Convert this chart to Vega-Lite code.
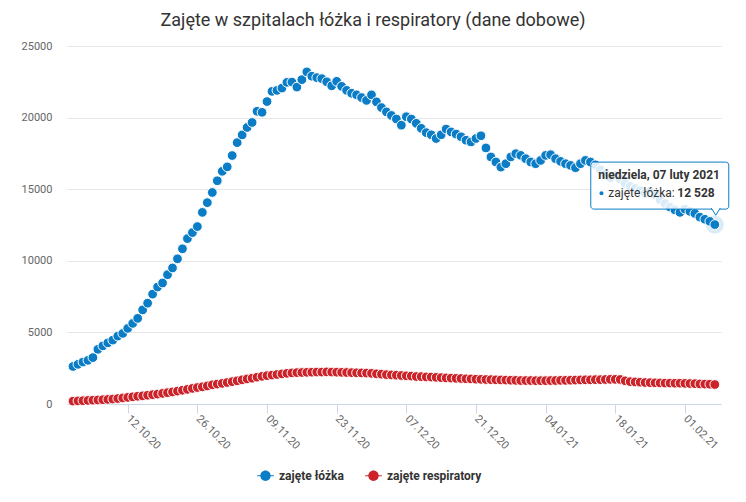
{
  "$schema": "https://vega.github.io/schema/vega-lite/v6.json",
  "width": 654,
  "height": 358,
  "autosize": {"type": "none"},
  "padding": {"left": 67, "top": 46, "right": 25, "bottom": 98},
  "background": "white",
  "config": {
    "font": "Roboto",
    "view": {"stroke": null},
    "axisX": {
      "grid": false,
      "domainColor": "#ccd6eb",
      "domainWidth": 1,
      "tickColor": "#ccd6eb",
      "tickSize": 9,
      "labelAngle": 45,
      "labelAlign": "left",
      "labelBaseline": "middle",
      "labelPadding": 4,
      "labelColor": "#666666",
      "labelFontSize": 11,
      "labelFont": "Roboto",
      "labelOverlap": false,
      "labelFlush": false,
      "labelBound": false,
      "title": null
    },
    "axisY": {
      "grid": true,
      "gridColor": "#e6e6e6",
      "gridWidth": 1,
      "domain": false,
      "ticks": false,
      "tickSize": 0,
      "labelPadding": 15,
      "labelColor": "#666666",
      "labelFontSize": 11,
      "labelFont": "Roboto",
      "title": null
    }
  },
  "title": {
    "text": "Zajęte w szpitalach łóżka i respiratory (dane dobowe)",
    "fontSize": 18,
    "fontWeight": "normal",
    "font": "Roboto",
    "color": "#333333",
    "anchor": "middle",
    "frame": "group",
    "offset": 10,
    "dx": -21
  },
  "layer": [
    {
      "data": {"values": [{"dzien": "2021-02-07", "v": 12528}]},
      "mark": {"type": "point", "shape": "circle", "size": 330, "filled": true, "color": "#0b7dc6", "opacity": 0.15},
      "encoding": {
        "x": {"field": "dzien", "type": "temporal"},
        "y": {"field": "v", "type": "quantitative"}
      }
    },
    {
      "data": {
        "values": [
          {"data": "2020-10-01", "zajęte łóżka": 2620, "zajęte respiratory": 200},
          {"data": "2020-10-02", "zajęte łóżka": 2770, "zajęte respiratory": 215},
          {"data": "2020-10-03", "zajęte łóżka": 2930, "zajęte respiratory": 230},
          {"data": "2020-10-04", "zajęte łóżka": 3050, "zajęte respiratory": 250},
          {"data": "2020-10-05", "zajęte łóżka": 3240, "zajęte respiratory": 265},
          {"data": "2020-10-06", "zajęte łóżka": 3820, "zajęte respiratory": 280},
          {"data": "2020-10-07", "zajęte łóżka": 4060, "zajęte respiratory": 300},
          {"data": "2020-10-08", "zajęte łóżka": 4270, "zajęte respiratory": 320},
          {"data": "2020-10-09", "zajęte łóżka": 4460, "zajęte respiratory": 345},
          {"data": "2020-10-10", "zajęte łóżka": 4740, "zajęte respiratory": 380},
          {"data": "2020-10-11", "zajęte łóżka": 4930, "zajęte respiratory": 420},
          {"data": "2020-10-12", "zajęte łóżka": 5280, "zajęte respiratory": 460},
          {"data": "2020-10-13", "zajęte łóżka": 5630, "zajęte respiratory": 500},
          {"data": "2020-10-14", "zajęte łóżka": 5980, "zajęte respiratory": 540},
          {"data": "2020-10-15", "zajęte łóżka": 6570, "zajęte respiratory": 570},
          {"data": "2020-10-16", "zajęte łóżka": 7040, "zajęte respiratory": 610},
          {"data": "2020-10-17", "zajęte łóżka": 7670, "zajęte respiratory": 650},
          {"data": "2020-10-18", "zajęte łóżka": 8170, "zajęte respiratory": 690},
          {"data": "2020-10-19", "zajęte łóżka": 8450, "zajęte respiratory": 740},
          {"data": "2020-10-20", "zajęte łóżka": 9030, "zajęte respiratory": 790},
          {"data": "2020-10-21", "zajęte łóżka": 9500, "zajęte respiratory": 840},
          {"data": "2020-10-22", "zajęte łóżka": 10140, "zajęte respiratory": 900},
          {"data": "2020-10-23", "zajęte łóżka": 10840, "zajęte respiratory": 960},
          {"data": "2020-10-24", "zajęte łóżka": 11550, "zajęte respiratory": 1020},
          {"data": "2020-10-25", "zajęte łóżka": 11970, "zajęte respiratory": 1090},
          {"data": "2020-10-26", "zajęte łóżka": 12390, "zajęte respiratory": 1150},
          {"data": "2020-10-27", "zajęte łóżka": 13380, "zajęte respiratory": 1200},
          {"data": "2020-10-28", "zajęte łóżka": 14060, "zajęte respiratory": 1260},
          {"data": "2020-10-29", "zajęte łóżka": 14770, "zajęte respiratory": 1340},
          {"data": "2020-10-30", "zajęte łóżka": 15590, "zajęte respiratory": 1390},
          {"data": "2020-10-31", "zajęte łóżka": 16250, "zajęte respiratory": 1440},
          {"data": "2020-11-01", "zajęte łóżka": 16560, "zajęte respiratory": 1500},
          {"data": "2020-11-02", "zajęte łóżka": 17350, "zajęte respiratory": 1560},
          {"data": "2020-11-03", "zajęte łóżka": 18250, "zajęte respiratory": 1620},
          {"data": "2020-11-04", "zajęte łóżka": 18790, "zajęte respiratory": 1690},
          {"data": "2020-11-05", "zajęte łóżka": 19310, "zajęte respiratory": 1750},
          {"data": "2020-11-06", "zajęte łóżka": 19660, "zajęte respiratory": 1800},
          {"data": "2020-11-07", "zajęte łóżka": 20440, "zajęte respiratory": 1870},
          {"data": "2020-11-08", "zajęte łóżka": 20370, "zajęte respiratory": 1930},
          {"data": "2020-11-09", "zajęte łóżka": 21120, "zajęte respiratory": 1980},
          {"data": "2020-11-10", "zajęte łóżka": 21830, "zajęte respiratory": 2020},
          {"data": "2020-11-11", "zajęte łóżka": 21900, "zajęte respiratory": 2060},
          {"data": "2020-11-12", "zajęte łóżka": 22060, "zajęte respiratory": 2100},
          {"data": "2020-11-13", "zajęte łóżka": 22460, "zajęte respiratory": 2140},
          {"data": "2020-11-14", "zajęte łóżka": 22480, "zajęte respiratory": 2170},
          {"data": "2020-11-15", "zajęte łóżka": 22130, "zajęte respiratory": 2190},
          {"data": "2020-11-16", "zajęte łóżka": 22650, "zajęte respiratory": 2200},
          {"data": "2020-11-17", "zajęte łóżka": 23190, "zajęte respiratory": 2210},
          {"data": "2020-11-18", "zajęte łóżka": 22890, "zajęte respiratory": 2220},
          {"data": "2020-11-19", "zajęte łóżka": 22790, "zajęte respiratory": 2230},
          {"data": "2020-11-20", "zajęte łóżka": 22720, "zajęte respiratory": 2230},
          {"data": "2020-11-21", "zajęte łóżka": 22500, "zajęte respiratory": 2240},
          {"data": "2020-11-22", "zajęte łóżka": 22220, "zajęte respiratory": 2230},
          {"data": "2020-11-23", "zajęte łóżka": 22530, "zajęte respiratory": 2220},
          {"data": "2020-11-24", "zajęte łóżka": 22180, "zajęte respiratory": 2210},
          {"data": "2020-11-25", "zajęte łóżka": 21900, "zajęte respiratory": 2200},
          {"data": "2020-11-26", "zajęte łóżka": 21700, "zajęte respiratory": 2190},
          {"data": "2020-11-27", "zajęte łóżka": 21590, "zajęte respiratory": 2180},
          {"data": "2020-11-28", "zajęte łóżka": 21400, "zajęte respiratory": 2170},
          {"data": "2020-11-29", "zajęte łóżka": 21200, "zajęte respiratory": 2160},
          {"data": "2020-11-30", "zajęte łóżka": 21590, "zajęte respiratory": 2140},
          {"data": "2020-12-01", "zajęte łóżka": 21100, "zajęte respiratory": 2110},
          {"data": "2020-12-02", "zajęte łóżka": 20700, "zajęte respiratory": 2080},
          {"data": "2020-12-03", "zajęte łóżka": 20400, "zajęte respiratory": 2050},
          {"data": "2020-12-04", "zajęte łóżka": 20150, "zajęte respiratory": 2030},
          {"data": "2020-12-05", "zajęte łóżka": 19900, "zajęte respiratory": 2010},
          {"data": "2020-12-06", "zajęte łóżka": 19470, "zajęte respiratory": 1990},
          {"data": "2020-12-07", "zajęte łóżka": 20060, "zajęte respiratory": 1970},
          {"data": "2020-12-08", "zajęte łóżka": 19900, "zajęte respiratory": 1950},
          {"data": "2020-12-09", "zajęte łóżka": 19600, "zajęte respiratory": 1920},
          {"data": "2020-12-10", "zajęte łóżka": 19250, "zajęte respiratory": 1910},
          {"data": "2020-12-11", "zajęte łóżka": 18950, "zajęte respiratory": 1890},
          {"data": "2020-12-12", "zajęte łóżka": 18800, "zajęte respiratory": 1880},
          {"data": "2020-12-13", "zajęte łóżka": 18540, "zajęte respiratory": 1860},
          {"data": "2020-12-14", "zajęte łóżka": 18800, "zajęte respiratory": 1840},
          {"data": "2020-12-15", "zajęte łóżka": 19200, "zajęte respiratory": 1820},
          {"data": "2020-12-16", "zajęte łóżka": 19000, "zajęte respiratory": 1810},
          {"data": "2020-12-17", "zajęte łóżka": 18850, "zajęte respiratory": 1790},
          {"data": "2020-12-18", "zajęte łóżka": 18660, "zajęte respiratory": 1780},
          {"data": "2020-12-19", "zajęte łóżka": 18420, "zajęte respiratory": 1760},
          {"data": "2020-12-20", "zajęte łóżka": 18300, "zajęte respiratory": 1750},
          {"data": "2020-12-21", "zajęte łóżka": 18540, "zajęte respiratory": 1730},
          {"data": "2020-12-22", "zajęte łóżka": 18730, "zajęte respiratory": 1720},
          {"data": "2020-12-23", "zajęte łóżka": 17880, "zajęte respiratory": 1710},
          {"data": "2020-12-24", "zajęte łóżka": 17250, "zajęte respiratory": 1700},
          {"data": "2020-12-25", "zajęte łóżka": 16900, "zajęte respiratory": 1690},
          {"data": "2020-12-26", "zajęte łóżka": 16540, "zajęte respiratory": 1680},
          {"data": "2020-12-27", "zajęte łóżka": 16780, "zajęte respiratory": 1670},
          {"data": "2020-12-28", "zajęte łóżka": 17250, "zajęte respiratory": 1660},
          {"data": "2020-12-29", "zajęte łóżka": 17480, "zajęte respiratory": 1650},
          {"data": "2020-12-30", "zajęte łóżka": 17360, "zajęte respiratory": 1640},
          {"data": "2020-12-31", "zajęte łóżka": 17130, "zajęte respiratory": 1640},
          {"data": "2021-01-01", "zajęte łóżka": 16900, "zajęte respiratory": 1640},
          {"data": "2021-01-02", "zajęte łóżka": 16780, "zajęte respiratory": 1630},
          {"data": "2021-01-03", "zajęte łóżka": 17010, "zajęte respiratory": 1630},
          {"data": "2021-01-04", "zajęte łóżka": 17360, "zajęte respiratory": 1630},
          {"data": "2021-01-05", "zajęte łóżka": 17410, "zajęte respiratory": 1640},
          {"data": "2021-01-06", "zajęte łóżka": 17130, "zajęte respiratory": 1640},
          {"data": "2021-01-07", "zajęte łóżka": 16940, "zajęte respiratory": 1650},
          {"data": "2021-01-08", "zajęte łóżka": 16780, "zajęte respiratory": 1650},
          {"data": "2021-01-09", "zajęte łóżka": 16660, "zajęte respiratory": 1660},
          {"data": "2021-01-10", "zajęte łóżka": 16500, "zajęte respiratory": 1670},
          {"data": "2021-01-11", "zajęte łóżka": 16780, "zajęte respiratory": 1680},
          {"data": "2021-01-12", "zajęte łóżka": 17010, "zajęte respiratory": 1690},
          {"data": "2021-01-13", "zajęte łóżka": 16900, "zajęte respiratory": 1690},
          {"data": "2021-01-14", "zajęte łóżka": 16700, "zajęte respiratory": 1700},
          {"data": "2021-01-15", "zajęte łóżka": 16350, "zajęte respiratory": 1700},
          {"data": "2021-01-16", "zajęte łóżka": 16050, "zajęte respiratory": 1710},
          {"data": "2021-01-17", "zajęte łóżka": 15800, "zajęte respiratory": 1720},
          {"data": "2021-01-18", "zajęte łóżka": 15950, "zajęte respiratory": 1720},
          {"data": "2021-01-19", "zajęte łóżka": 15700, "zajęte respiratory": 1710},
          {"data": "2021-01-20", "zajęte łóżka": 15400, "zajęte respiratory": 1620},
          {"data": "2021-01-21", "zajęte łóżka": 15200, "zajęte respiratory": 1560},
          {"data": "2021-01-22", "zajęte łóżka": 15050, "zajęte respiratory": 1540},
          {"data": "2021-01-23", "zajęte łóżka": 14900, "zajęte respiratory": 1520},
          {"data": "2021-01-24", "zajęte łóżka": 14700, "zajęte respiratory": 1500},
          {"data": "2021-01-25", "zajęte łóżka": 14850, "zajęte respiratory": 1490},
          {"data": "2021-01-26", "zajęte łóżka": 14600, "zajęte respiratory": 1480},
          {"data": "2021-01-27", "zajęte łóżka": 14250, "zajęte respiratory": 1470},
          {"data": "2021-01-28", "zajęte łóżka": 14000, "zajęte respiratory": 1460},
          {"data": "2021-01-29", "zajęte łóżka": 13750, "zajęte respiratory": 1460},
          {"data": "2021-01-30", "zajęte łóżka": 13550, "zajęte respiratory": 1450},
          {"data": "2021-01-31", "zajęte łóżka": 13380, "zajęte respiratory": 1450},
          {"data": "2021-02-01", "zajęte łóżka": 13610, "zajęte respiratory": 1440},
          {"data": "2021-02-02", "zajęte łóżka": 13450, "zajęte respiratory": 1430},
          {"data": "2021-02-03", "zajęte łóżka": 13300, "zajęte respiratory": 1420},
          {"data": "2021-02-04", "zajęte łóżka": 13050, "zajęte respiratory": 1400},
          {"data": "2021-02-05", "zajęte łóżka": 12900, "zajęte respiratory": 1390},
          {"data": "2021-02-06", "zajęte łóżka": 12750, "zajęte respiratory": 1380},
          {"data": "2021-02-07", "zajęte łóżka": 12528, "zajęte respiratory": 1360}
        ]
      },
      "transform": [{"fold": ["zajęte łóżka", "zajęte respiratory"], "as": ["seria", "wartosc"]}],
      "mark": {"type": "point", "filled": true, "size": 95, "stroke": "white", "strokeWidth": 1, "opacity": 1},
      "encoding": {
        "x": {
          "field": "data",
          "type": "temporal",
          "scale": {
            "type": "utc",
            "domain": [
              {"year": 2020, "month": 9, "date": 29, "hours": 19, "minutes": 3, "utc": true},
              {"year": 2021, "month": 2, "date": 8, "hours": 6, "utc": true}
            ],
            "nice": false
          },
          "axis": {
            "format": "%d.%m.%y",
            "values": [
              {"year": 2020, "month": 10, "date": 12, "utc": true},
              {"year": 2020, "month": 10, "date": 26, "utc": true},
              {"year": 2020, "month": 11, "date": 9, "utc": true},
              {"year": 2020, "month": 11, "date": 23, "utc": true},
              {"year": 2020, "month": 12, "date": 7, "utc": true},
              {"year": 2020, "month": 12, "date": 21, "utc": true},
              {"year": 2021, "month": 1, "date": 4, "utc": true},
              {"year": 2021, "month": 1, "date": 18, "utc": true},
              {"year": 2021, "month": 2, "date": 1, "utc": true}
            ]
          }
        },
        "y": {
          "field": "wartosc",
          "type": "quantitative",
          "scale": {"domain": [0, 25000], "nice": false, "zero": true},
          "axis": {"values": [0, 5000, 10000, 15000, 20000, 25000], "format": "d"}
        },
        "color": {
          "field": "seria",
          "type": "nominal",
          "scale": {"domain": ["zajęte łóżka", "zajęte respiratory"], "range": ["#0b7dc6", "#cc2229"]},
          "legend": {
            "orient": "none",
            "legendX": 190,
            "legendY": 421,
            "direction": "horizontal",
            "title": null,
            "padding": 0,
            "symbolType": "M -0.62,0 A 0.62,0.62 0 1,1 0.62,0 A 0.62,0.62 0 1,1 -0.62,0 Z M -1,-0.06 L -0.6,-0.06 L -0.6,0.06 L -1,0.06 Z M 0.6,-0.06 L 1,-0.06 L 1,0.06 L 0.6,0.06 Z",
            "symbolSize": 280,
            "symbolStrokeWidth": 0,
            "symbolOpacity": 1,
            "labelFont": "Roboto",
            "labelFontSize": 12,
            "labelFontWeight": "bold",
            "labelColor": "#333333",
            "labelOffset": 5,
            "columnPadding": 21
          }
        }
      }
    },
    {
      "data": {"values": [{"dzien": "2021-02-07", "v": 12528, "naglowek": "niedziela, 07 luty 2021", "etykieta": "zajęte łóżka:", "wartosc_txt": "12 528"}]},
      "layer": [
        {
          "mark": {"type": "rect", "fill": "white", "fillOpacity": 0.85, "stroke": "#0b7dc6", "strokeWidth": 1, "cornerRadius": 3, "xOffset": -124, "x2Offset": 14, "yOffset": -62.5, "y2Offset": -15.5},
          "encoding": {
            "x": {"field": "dzien", "type": "temporal"},
            "x2": {"field": "dzien"},
            "y": {"field": "v", "type": "quantitative"},
            "y2": {"field": "v"}
          }
        },
        {
          "mark": {"type": "point", "shape": "M -1,-0.4 L 0,1.2 L 1,-0.4", "size": 81, "filled": true, "fill": "white", "fillOpacity": 1, "stroke": "#0b7dc6", "strokeWidth": 1, "opacity": 1, "xOffset": 1, "yOffset": -14.8},
          "encoding": {
            "x": {"field": "dzien", "type": "temporal"},
            "y": {"field": "v", "type": "quantitative"}
          }
        },
        {
          "mark": {"type": "text", "align": "left", "baseline": "alphabetic", "font": "Roboto", "fontSize": 12, "fontWeight": "bold", "color": "#333333", "dx": -116.5, "dy": -45.6},
          "encoding": {
            "x": {"field": "dzien", "type": "temporal"},
            "y": {"field": "v", "type": "quantitative"},
            "text": {"field": "naglowek"}
          }
        },
        {
          "mark": {"type": "point", "shape": "circle", "size": 16, "filled": true, "color": "#0b7dc6", "opacity": 1, "xOffset": -113.3, "yOffset": -31.3},
          "encoding": {
            "x": {"field": "dzien", "type": "temporal"},
            "y": {"field": "v", "type": "quantitative"}
          }
        },
        {
          "mark": {"type": "text", "align": "left", "baseline": "alphabetic", "font": "Roboto", "fontSize": 12, "fontWeight": "normal", "color": "#333333", "dx": -106.5, "dy": -28},
          "encoding": {
            "x": {"field": "dzien", "type": "temporal"},
            "y": {"field": "v", "type": "quantitative"},
            "text": {"field": "etykieta"}
          }
        },
        {
          "mark": {"type": "text", "align": "left", "baseline": "alphabetic", "font": "Roboto", "fontSize": 12, "fontWeight": "bold", "color": "#333333", "dx": -37.5, "dy": -28},
          "encoding": {
            "x": {"field": "dzien", "type": "temporal"},
            "y": {"field": "v", "type": "quantitative"},
            "text": {"field": "wartosc_txt"}
          }
        }
      ]
    }
  ]
}
